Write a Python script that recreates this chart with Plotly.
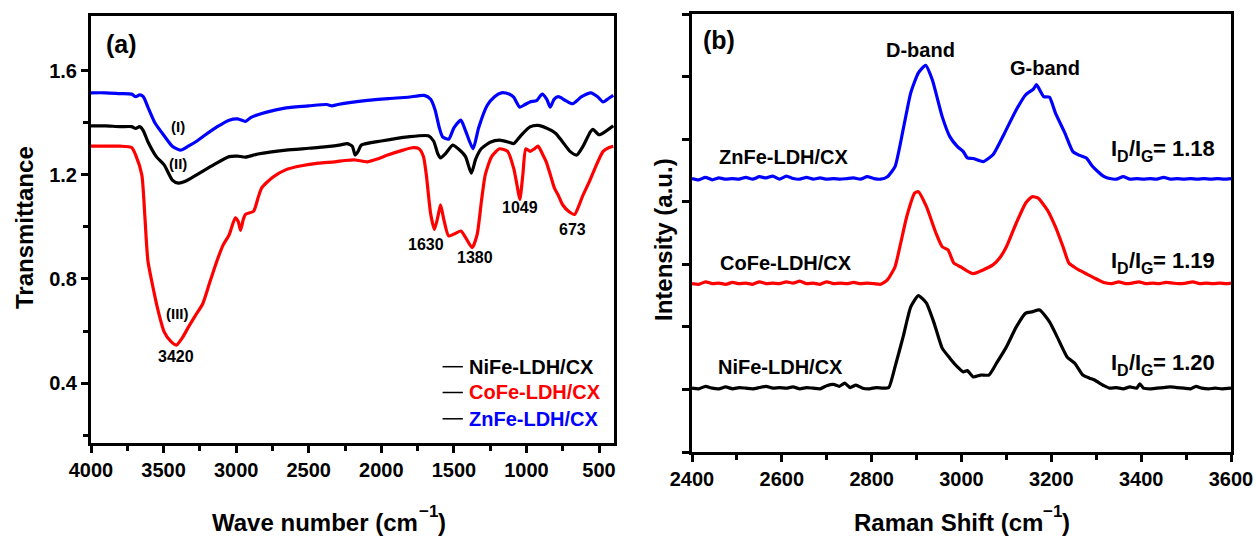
import plotly.graph_objects as go

# ---------------- (a) FTIR data ----------------
ftir_wn_zn = [4000, 3900, 3800, 3720, 3692, 3665, 3640, 3608, 3560, 3496, 3440, 3384, 3330, 3270, 3216, 3130,
              3048, 2990, 2936, 2900, 2796, 2656, 2500, 2376, 2340, 2300, 2096, 1950, 1816, 1704, 1660, 1630,
              1600, 1578, 1536, 1500, 1452, 1420, 1368, 1330, 1270, 1220, 1172, 1120, 1088, 1046, 1010, 976,
              930, 892, 860, 836, 810, 780, 730, 682, 620, 556, 510, 472, 430, 402]
ftir_t_zn = [1.515, 1.515, 1.512, 1.51, 1.50, 1.507, 1.50, 1.46, 1.40, 1.35, 1.31, 1.295, 1.31, 1.33, 1.352, 1.385,
             1.41, 1.415, 1.405, 1.42, 1.44, 1.457, 1.465, 1.47, 1.465, 1.47, 1.486, 1.493, 1.498, 1.505, 1.49, 1.45,
             1.38, 1.346, 1.337, 1.38, 1.41, 1.37, 1.30, 1.38, 1.467, 1.50, 1.515, 1.51, 1.498, 1.46, 1.47, 1.48,
             1.485, 1.51, 1.49, 1.46, 1.49, 1.50, 1.485, 1.473, 1.50, 1.515, 1.50, 1.48, 1.495, 1.505]

ftir_wn_ni = [4000, 3900, 3800, 3720, 3692, 3665, 3640, 3608, 3550, 3496, 3440, 3398, 3350, 3272, 3150, 3048,
              2990, 2936, 2850, 2656, 2500, 2376, 2280, 2236, 2200, 2180, 2160, 2138, 2000, 1816, 1676, 1640,
              1610, 1592, 1560, 1508, 1470, 1420, 1380, 1350, 1312, 1250, 1186, 1120, 1088, 1040, 976, 920,
              864, 800, 752, 700, 654, 610, 560, 542, 500, 460, 402]
ftir_t_ni = [1.388, 1.388, 1.385, 1.385, 1.378, 1.385, 1.37, 1.327, 1.27, 1.238, 1.18, 1.168, 1.175, 1.2, 1.24, 1.27,
             1.272, 1.268, 1.28, 1.295, 1.302, 1.308, 1.315, 1.32, 1.31, 1.276, 1.29, 1.314, 1.33, 1.346, 1.35, 1.33,
             1.28, 1.265, 1.28, 1.314, 1.30, 1.27, 1.206, 1.26, 1.30, 1.325, 1.333, 1.325, 1.32, 1.35, 1.384, 1.39,
             1.38, 1.36, 1.327, 1.29, 1.276, 1.31, 1.365, 1.375, 1.354, 1.365, 1.388]

ftir_wn_co = [4000, 3900, 3800, 3720, 3692, 3650, 3630, 3608, 3570, 3538, 3496, 3450, 3412, 3370, 3328, 3280,
              3230, 3180, 3132, 3090, 3048, 3006, 2985, 2970, 2950, 2936, 2880, 2850, 2824, 2750, 2656, 2550,
              2432, 2320, 2250, 2180, 2096, 2020, 1956, 1850, 1788, 1740, 1710, 1690, 1660, 1634, 1610, 1592,
              1570, 1536, 1490, 1452, 1420, 1374, 1340, 1310, 1284, 1240, 1186, 1130, 1088, 1065, 1046, 1025,
              1004, 975, 945, 920, 890, 864, 830, 808, 780, 752, 710, 668, 640, 612, 570, 528, 472, 430, 402]
ftir_t_co = [1.31, 1.31, 1.31, 1.305, 1.276, 1.2, 1.05, 0.87, 0.76, 0.679, 0.597, 0.56, 0.546, 0.575, 0.616, 0.66,
             0.705, 0.79, 0.87, 0.93, 0.97, 1.035, 1.02, 0.987, 1.03, 1.048, 1.06, 1.11, 1.15, 1.19, 1.22, 1.235,
             1.245, 1.25, 1.255, 1.257, 1.25, 1.262, 1.276, 1.295, 1.304, 1.30, 1.27, 1.2, 1.05, 0.99, 1.04, 1.085,
             1.03, 0.965, 0.975, 0.984, 0.96, 0.92, 0.97, 1.10, 1.2, 1.27, 1.30, 1.29, 1.225, 1.16, 1.105, 1.20,
             1.30, 1.29, 1.30, 1.31, 1.28, 1.25, 1.19, 1.15, 1.12, 1.086, 1.06, 1.048, 1.08, 1.12, 1.17, 1.225, 1.29, 1.305, 1.31]

# ---------------- (b) Raman data ----------------
raman_x_zn = [2400, 2415, 2430, 2445, 2460, 2475, 2490, 2505, 2520, 2535, 2550, 2565, 2580, 2595, 2610, 2625,
              2640, 2655, 2670, 2685, 2700, 2715, 2730, 2745, 2760, 2775, 2790, 2805, 2820, 2835, 2852, 2870,
              2887, 2904, 2920, 2935, 2957, 2974, 2991, 3004, 3013, 3026, 3048, 3070, 3096, 3122, 3143, 3160,
              3167, 3183, 3196, 3209, 3230, 3248, 3263, 3278, 3290, 3304, 3318, 3330, 3345, 3360, 3375, 3390,
              3405, 3420, 3435, 3450, 3465, 3480, 3495, 3510, 3525, 3540, 3555, 3570, 3585, 3600]
raman_i_zn = [4.37, 4.35, 4.39, 4.35, 4.38, 4.36, 4.37, 4.36, 4.39, 4.36, 4.40, 4.38, 4.41, 4.36, 4.41, 4.37,
              4.36, 4.39, 4.36, 4.38, 4.36, 4.37, 4.36, 4.37, 4.38, 4.36, 4.40, 4.37, 4.36, 4.40, 4.56, 5.15,
              5.74, 6.06, 6.18, 5.95, 5.36, 5.04, 4.88, 4.80, 4.70, 4.69, 4.64, 4.75, 5.10, 5.47, 5.71, 5.80,
              5.87, 5.68, 5.67, 5.42, 5.10, 4.80, 4.74, 4.70, 4.58, 4.48, 4.40, 4.37, 4.36, 4.40, 4.36, 4.37,
              4.36, 4.37, 4.36, 4.39, 4.36, 4.37, 4.36, 4.37, 4.36, 4.37, 4.36, 4.37, 4.36, 4.37]

raman_x_co = [2400, 2415, 2430, 2445, 2460, 2475, 2490, 2505, 2520, 2535, 2550, 2565, 2580, 2595, 2610, 2625,
              2640, 2655, 2670, 2685, 2700, 2715, 2730, 2745, 2760, 2775, 2790, 2805, 2820, 2835, 2852, 2865,
              2878, 2896, 2904, 2922, 2943, 2957, 2970, 2983, 3000, 3009, 3026, 3048, 3070, 3085, 3100, 3122,
              3143, 3157, 3170, 3191, 3209, 3226, 3239, 3250, 3261, 3280, 3296, 3310, 3322, 3335, 3350, 3365,
              3380, 3395, 3410, 3425, 3440, 3455, 3470, 3485, 3500, 3515, 3530, 3545, 3560, 3575, 3590, 3600]
raman_i_co = [2.69, 2.68, 2.72, 2.69, 2.70, 2.68, 2.71, 2.69, 2.70, 2.68, 2.72, 2.69, 2.70, 2.69, 2.72, 2.70,
              2.73, 2.69, 2.70, 2.68, 2.72, 2.69, 2.70, 2.69, 2.71, 2.69, 2.70, 2.69, 2.68, 2.75, 2.96, 3.35,
              3.76, 4.14, 4.16, 3.92, 3.50, 3.28, 3.23, 3.02, 2.95, 2.91, 2.85, 2.91, 2.99, 3.10, 3.28, 3.66,
              3.98, 4.08, 4.06, 3.87, 3.60, 3.28, 3.02, 2.96, 2.91, 2.84, 2.78, 2.73, 2.70, 2.69, 2.72, 2.69,
              2.70, 2.72, 2.69, 2.70, 2.69, 2.71, 2.70, 2.69, 2.70, 2.72, 2.69, 2.70, 2.69, 2.70, 2.69, 2.70]

raman_x_ni = [2400, 2415, 2430, 2445, 2460, 2475, 2490, 2505, 2520, 2535, 2550, 2565, 2580, 2595, 2610, 2625,
              2640, 2655, 2670, 2685, 2700, 2715, 2728, 2740, 2752, 2765, 2780, 2795, 2810, 2825, 2838, 2852,
              2870, 2887, 2904, 2922, 2939, 2957, 2974, 2991, 3004, 3013, 3026, 3043, 3061, 3078, 3100, 3122,
              3143, 3157, 3174, 3196, 3213, 3235, 3252, 3270, 3285, 3296, 3317, 3330, 3345, 3360, 3375, 3390,
              3397, 3405, 3420, 3435, 3450, 3465, 3480, 3495, 3510, 3522, 3535, 3550, 3565, 3580, 3600]
raman_i_ni = [1.02, 1.01, 1.05, 1.02, 1.01, 1.04, 1.01, 1.03, 1.02, 1.01, 1.03, 1.05, 1.02, 1.03, 1.02, 1.04,
              1.01, 1.03, 1.02, 1.01, 1.06, 1.08, 1.05, 1.10, 1.03, 1.07, 1.02, 1.01, 1.03, 1.02, 1.03, 1.36,
              1.84, 2.32, 2.50, 2.38, 2.06, 1.66, 1.50, 1.36, 1.28, 1.30, 1.20, 1.23, 1.23, 1.42, 1.68, 2.00,
              2.22, 2.24, 2.27, 2.08, 1.84, 1.52, 1.42, 1.23, 1.18, 1.15, 1.06, 1.02, 1.03, 1.01, 1.04, 1.02,
              1.09, 1.02, 1.01, 1.02, 1.03, 1.04, 1.03, 1.02, 1.01, 1.05, 1.02, 1.01, 1.02, 1.01, 1.02]

series_names = ["NiFe-LDH/CX", "CoFe-LDH/CX", "ZnFe-LDH/CX"]
ratio_labels = ["1.20", "1.19", "1.18"]

FONT = "Arial, Liberation Sans, sans-serif"
BLUE, RED, BLACK = "#0000FF", "#FF0000", "#000000"

fig = go.Figure()
lw = 3.2
fig.add_trace(go.Scatter(x=ftir_wn_zn, y=ftir_t_zn, mode="lines", line=dict(color=BLUE, width=lw, shape="spline", smoothing=0.6),
                         name=series_names[2], xaxis="x", yaxis="y", showlegend=False))
fig.add_trace(go.Scatter(x=ftir_wn_ni, y=ftir_t_ni, mode="lines", line=dict(color=BLACK, width=lw, shape="spline", smoothing=0.6),
                         name=series_names[0], xaxis="x", yaxis="y", showlegend=False))
fig.add_trace(go.Scatter(x=ftir_wn_co, y=ftir_t_co, mode="lines", line=dict(color=RED, width=lw, shape="spline", smoothing=0.6),
                         name=series_names[1], xaxis="x", yaxis="y", showlegend=False))

fig.add_trace(go.Scatter(x=raman_x_zn, y=raman_i_zn, mode="lines", line=dict(color=BLUE, width=lw, shape="spline", smoothing=0.5),
                         name=series_names[2], xaxis="x2", yaxis="y2", showlegend=False))
fig.add_trace(go.Scatter(x=raman_x_co, y=raman_i_co, mode="lines", line=dict(color=RED, width=lw, shape="spline", smoothing=0.5),
                         name=series_names[1], xaxis="x2", yaxis="y2", showlegend=False))
fig.add_trace(go.Scatter(x=raman_x_ni, y=raman_i_ni, mode="lines", line=dict(color=BLACK, width=lw, shape="spline", smoothing=0.5),
                         name=series_names[0], xaxis="x2", yaxis="y2", showlegend=False))

W, H = 1256, 536
def px(x):
    return x / W
def py(y):
    return 1 - y / H

tickfont = dict(family=FONT, size=20, color="black", weight="bold")
axis_common = dict(showline=True, linewidth=3, linecolor="black", mirror=True, ticks="outside",
                   ticklen=7, tickwidth=2.5, tickcolor="black", showgrid=False, zeroline=False,
                   tickfont=tickfont, automargin=False)

fig.update_layout(
    template="none",
    width=W, height=H, margin=dict(l=0, r=0, t=0, b=0, pad=0),
    paper_bgcolor="white", plot_bgcolor="white",
    font=dict(family=FONT, color="black", size=16),
    xaxis=dict(domain=[px(91), px(614)], range=[4000, 397], tickmode="linear", tick0=500, dtick=500,
               minor=dict(ticks="outside", ticklen=5, tickwidth=2.5, tickcolor="black", dtick=250, tick0=250),
               anchor="y", **axis_common),
    yaxis=dict(domain=[py(443), py(16)], range=[0.17, 1.81], tickmode="array",
               tickvals=[0.4, 0.8, 1.2, 1.6], ticktext=["0.4", "0.8", "1.2", "1.6"],
               minor=dict(ticks="outside", ticklen=5, tickwidth=2.5, tickcolor="black",
                          tickvals=[0.2, 0.6, 1.0, 1.4]),
               anchor="x", **axis_common),
    xaxis2=dict(domain=[px(692), px(1231)], range=[2400, 3600], tickmode="linear", tick0=2400, dtick=200,
                minor=dict(ticks="outside", ticklen=5, tickwidth=2.5, tickcolor="black", dtick=100),
                anchor="y2", **axis_common),
    yaxis2=dict(domain=[py(452), py(14)], range=[0, 7], tickmode="linear", tick0=0, dtick=1,
                showticklabels=False, anchor="x2", **axis_common),
)

ann = []
def A(text, x, y, xref, yref, size, bold=True, color="black", xanchor="center", yanchor="middle", textangle=0):
    ann.append(dict(text=text, x=x, y=y, xref=xref, yref=yref, showarrow=False,
                    font=dict(family=FONT, size=size, color=color, weight="bold" if bold else "normal"),
                    xanchor=xanchor, yanchor=yanchor, textangle=textangle, borderpad=0, borderwidth=0))

# Arial/Liberation Sans Bold advance widths (per em) for building sub/superscript runs
ADV = {" ": .278, "(": .333, ")": .333, "-": .333, ".": .278, "/": .278, "=": .584, "\u2212": .584,
       "W": .944, "a": .556, "v": .556, "e": .556, "n": .611, "u": .611, "m": .889, "b": .611,
       "r": .389, "c": .556, "R": .722, "S": .667, "h": .611, "i": .278, "f": .333, "t": .333,
       "I": .278, "D": .722, "G": .778}
def width(s, size):
    return sum(ADV.get(ch, .556) for ch in s) * size

def run(pieces, x_left, y_center, color="black"):
    """pieces: list of (text, size, dy_px); placed left-to-right in paper pixels."""
    x = x_left
    for text, size, dy in pieces:
        A(text, px(x), py(y_center + dy), "paper", "paper", size, color=color, xanchor="left")
        x += width(text, size)

def centered_run(pieces, x_center, y_center):
    total = sum(width(t, s) for t, s, _ in pieces)
    run(pieces, x_center - total / 2, y_center)

# axis titles
centered_run([("Wave number (cm", 24, 0), ("\u22121", 17, -11), (")", 24, 0)], 329, 522)
centered_run([("Raman Shift (cm", 24, 0), ("\u22121", 17, -11), (")", 24, 0)], 962, 522)
A("Transmittance", px(24), py(228), "paper", "paper", 24, textangle=-90)
A("Intensity (a.u.)", px(664), py(240), "paper", "paper", 24, textangle=-90)

# panel (a) labels
A("(a)", 3787, 1.704, "x", "y", 25)
A("(I)", 3398, 1.384, "x", "y", 15)
A("(II)", 3398, 1.244, "x", "y", 15)
A("(III)", 3406, 0.667, "x", "y", 15)
A("3420", 3412, 0.502, "x", "y", 16)
A("1630", 1690, 0.933, "x", "y", 16)
A("1380", 1354, 0.883, "x", "y", 16)
A("1049", 1046, 1.073, "x", "y", 16)
A("673", 682, 0.99, "x", "y", 16)

# panel (a) legend
legend_y = [0.463, 0.364, 0.263]
legend_colors = [BLACK, RED, BLUE]
shapes = []
for name, yv, c in zip(series_names, legend_y, legend_colors):
    shapes.append(dict(type="line", xref="x", yref="y", x0=1578, x1=1438, y0=yv, y1=yv,
                       line=dict(color="black", width=1.5)))
    A(name, 1396, yv, "x", "y", 20, color=c, xanchor="left")

# panel (b) labels
A("(b)", 2461, 6.59, "x2", "y2", 25)
A("D-band", 2909, 6.43, "x2", "y2", 20)
A("G-band", 3187, 6.14, "x2", "y2", 20)
A(series_names[2], 2604, 4.72, "x2", "y2", 20)
A(series_names[1], 2609, 3.02, "x2", "y2", 20)
A(series_names[0], 2596, 1.36, "x2", "y2", 20)
for r, yc in zip(ratio_labels, [362, 260, 148]):
    run([("I", 22, 0), ("D", 16, 8), ("/I", 22, 0), ("G", 16, 8), ("= " + r, 22, 0)], 1111, yc)

fig.update_layout(annotations=ann, shapes=shapes)
fig.write_html("out.html")
